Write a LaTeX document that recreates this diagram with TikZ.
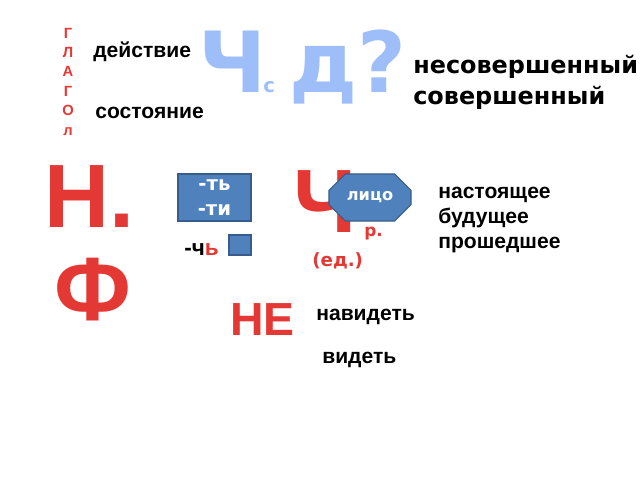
\documentclass[tikz,border=0pt]{standalone}
\usepackage{fontspec}
\setmainfont{Liberation Sans}
\newfontfamily\dejavu{DejaVu Sans}
\usetikzlibrary{shapes.misc}
\definecolor{glred}{RGB}{228,56,52}
\definecolor{glblue}{RGB}{158,190,250}
\definecolor{boxfill}{RGB}{79,129,189}
\definecolor{boxline}{RGB}{56,93,138}
\newcommand{\sz}[2][1.25]{\fontsize{#2}{#1\dimexpr #2pt\relax}\selectfont}
\tikzset{
  word/.style={anchor=base west, inner sep=0pt, font=\bfseries\sz{15}},
  vword/.style={anchor=base west, inner sep=0pt, font=\dejavu\bfseries\sz{17}},
  letter/.style={anchor=base, inner sep=0pt, text=glred, font=\bfseries\sz{10.5}},
  bigblue/.style={anchor=base west, inner sep=0pt, text=glblue, font=\dejavu\bfseries\sz{60}},
  bigred/.style={anchor=base west, inner sep=0pt, text=glred, font=\bfseries\sz{64}},
  redmark/.style={anchor=base west, inner sep=0pt, text=glred, font=\dejavu\bfseries\sz{13}},
  bluebox/.style={draw=boxline, fill=boxfill, line width=0.8pt, text=white,
    inner sep=0pt, font=\dejavu\bfseries},
}
\begin{document}
\begin{tikzpicture}[x=0.025cm, y=-0.025cm]
  \useasboundingbox (0,0) rectangle (640,480);
  % глагол
  \foreach \ch [count=\i] in {Г,Л,А,Г,О,л} {
    \node[letter] (gl\i) at (68,{38+19.4*(\i-1)}) {\ch};
  }
  \node[word] (action) at (93,58) {действие};
  \node[word] (state) at (95,118) {состояние};
  % вопросы
  \node[bigblue] (chbig) at (198,93) {Ч};
  \node[anchor=base west, inner sep=0pt, text=glblue, font=\dejavu\bfseries\sz{14}] (chs) at (263,93) {с};
  \node[bigblue] (dq) at (289,93) {д?};
  \node[vword] (imperf) at (413,73) {несовершенный};
  \node[vword] (perf) at (413,104) {совершенный};
  % начальная форма
  \node[bigred] (nf) at (44,227) {Н.};
  \node[bigred, anchor=base] (nff) at (93,320) {Ф};
  \node[bluebox, minimum width=1.825cm, minimum height=1.175cm, align=center,
    font=\dejavu\bfseries\fontsize{14}{18}\selectfont] (suffix) at (214.5,197.5) {-ть\\-ти};
  \node[anchor=base west, inner sep=0pt, font=\bfseries\sz{16}] (chsoft) at (184,255)
    {-ч\textcolor{glred}{ь}};
  \node[bluebox, minimum width=0.55cm, minimum height=0.5cm] (sq) at (240,245) {};
  % число, лицо, род
  \node[bigred] (chred) at (293,232) {Ч};
  \node[bluebox, chamfered rectangle, chamfered rectangle xsep=0.27cm,
    chamfered rectangle ysep=0.27cm, minimum width=2.05cm, minimum height=1.175cm,
    font=\dejavu\bfseries\sz{11.5}] (face) at (370,197.5) {лицо};
  \node[redmark, font=\dejavu\bfseries\sz{12}] (gender) at (364,236) {р.};
  \node[redmark] (sing) at (312,266) {(ед.)};
  \node[word] (pres) at (438,198) {настоящее};
  \node[word] (fut) at (438,223) {будущее};
  \node[word] (past) at (438,248) {прошедшее};
  % не с глаголами
  \node[bigred, font=\bfseries\sz{33}] (ne) at (230,335) {НЕ};
  \node[word] (hate) at (316,320) {навидеть};
  \node[word] (see) at (322,363) {видеть};
\end{tikzpicture}
\end{document}
